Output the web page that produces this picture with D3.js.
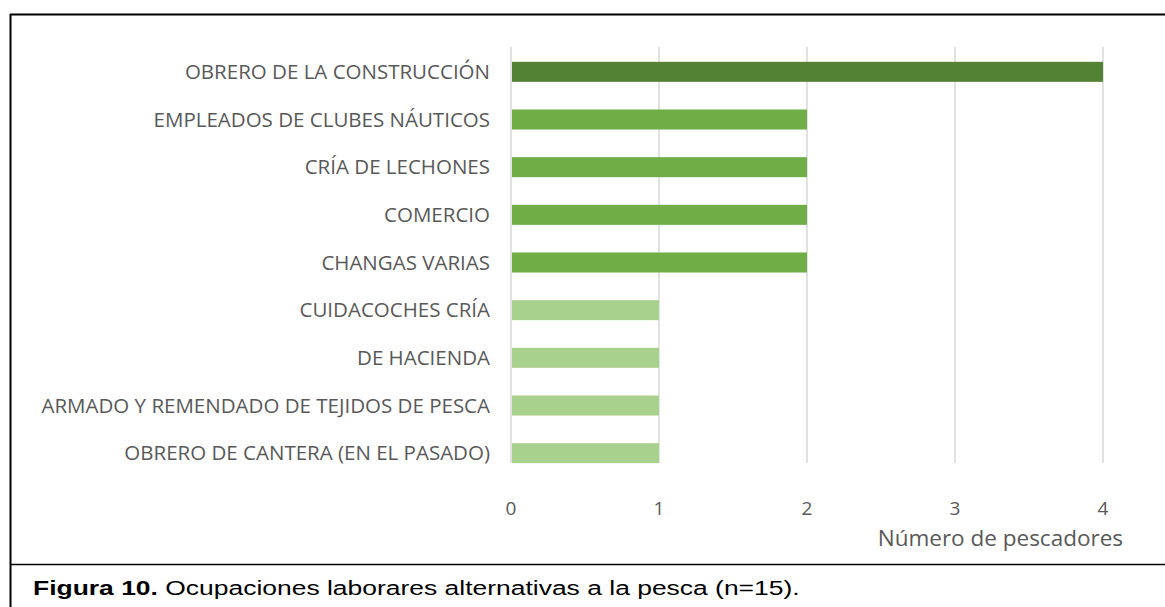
<!DOCTYPE html>
<html>
<head>
<meta charset="utf-8">
<script src="https://cdn.jsdelivr.net/npm/d3@7"></script>
<style>
  body { margin: 0; background: #fff; }
  text { font-family: "Open Sans", sans-serif; }
</style>
</head>
<body>
<svg id="chart" width="1165" height="607"></svg>
<script>
// --- data (top to bottom)
var categories = [
  "OBRERO DE LA CONSTRUCCIÓN",
  "EMPLEADOS DE CLUBES NÁUTICOS",
  "CRÍA DE LECHONES",
  "COMERCIO",
  "CHANGAS VARIAS",
  "CUIDACOCHES  CRÍA",
  "DE HACIENDA",
  "ARMADO Y REMENDADO DE TEJIDOS DE PESCA",
  "OBRERO DE CANTERA (EN EL PASADO)"
];
var values = [4, 2, 2, 2, 2, 1, 1, 1, 1];
var xTicks = [0, 1, 2, 3, 4];

// color by value
var colorFor = { 4: "#548235", 2: "#70ad47", 1: "#a9d18e" };

var svg = d3.select("#chart");

// frame lines
svg.append("line").attr("x1", 10).attr("x2", 1165).attr("y1", 14.5).attr("y2", 14.5)
    .attr("stroke", "#000").attr("stroke-width", 2);
svg.append("line").attr("x1", 10.5).attr("x2", 10.5).attr("y1", 14).attr("y2", 607)
    .attr("stroke", "#000").attr("stroke-width", 2);
svg.append("line").attr("x1", 10).attr("x2", 1165).attr("y1", 564.5).attr("y2", 564.5)
    .attr("stroke", "#000").attr("stroke-width", 1.5);

var x = d3.scaleLinear()
    .domain([0, 4])
    .range([511, 1103]);

var y = d3.scaleBand()
    .domain(categories)
    .range([48, 477])
    .paddingInner(0.58)
    .paddingOuter(0.29);

// gridlines
svg.append("g")
  .selectAll("line")
  .data(xTicks)
  .enter().append("line")
    .attr("x1", function(d) { return x(d); })
    .attr("x2", function(d) { return x(d); })
    .attr("y1", 47)
    .attr("y2", 463)
    .attr("stroke", "#d9d9d9")
    .attr("stroke-width", 1.5);

// bars
svg.append("g")
  .selectAll("rect")
  .data(values)
  .enter().append("rect")
    .attr("x", x(0) + 1)
    .attr("y", function(d, i) { return y(categories[i]); })
    .attr("width", function(d) { return x(d) - x(0) - 1; })
    .attr("height", y.bandwidth())
    .attr("fill", function(d) { return colorFor[d]; });

// category labels
svg.append("g")
  .selectAll("text")
  .data(categories)
  .enter().append("text")
    .attr("x", 490)
    .attr("y", function(d) { return y(d) + y.bandwidth() / 2; })
    .attr("dy", "0.35em")
    .attr("text-anchor", "end")
    .attr("fill", "#595959")
    .style("font-size", "20.5px")
    .text(function(d) { return d; });

// x tick labels
svg.append("g")
  .selectAll("text")
  .data(xTicks)
  .enter().append("text")
    .attr("x", function(d) { return x(d); })
    .attr("y", 515)
    .attr("text-anchor", "middle")
    .attr("fill", "#595959")
    .style("font-size", "19px")
    .text(function(d) { return d; });

// axis title
svg.append("text")
  .attr("x", 1123)
  .attr("y", 546)
  .attr("text-anchor", "end")
  .attr("fill", "#595959")
  .style("font-size", "22.5px")
  .text("Número de pescadores");

// caption (stretched horizontally like the source)
var cap = svg.append("text")
  .attr("transform", "translate(33,595) scale(1.26,1)")
  .style("font-family", "'Liberation Sans', Arial, sans-serif")
  .style("font-size", "21px")
  .attr("fill", "#000");
cap.append("tspan").style("font-weight", "bold").text("Figura 10.");
cap.append("tspan").text(" Ocupaciones laborares alternativas a la pesca (n=15).");
</script>
</body>
</html>
